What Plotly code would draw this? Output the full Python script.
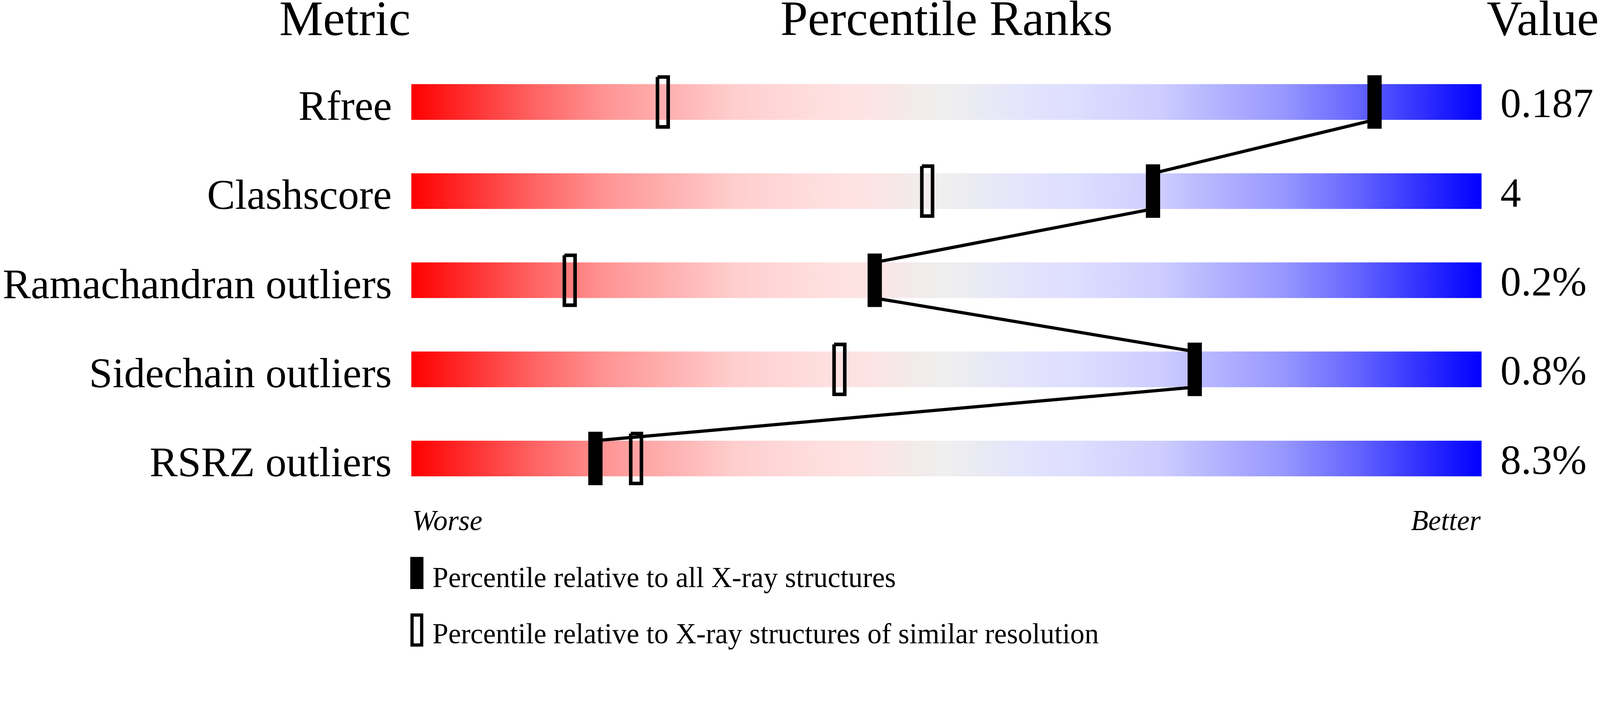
import plotly.graph_objects as go

# slider values
metrics = ['Rfree', 'Clashscore', 'Ramachandran outliers', 'Sidechain outliers', 'RSRZ outliers']
values = ['0.187', '4', '0.2%', '0.8%', '8.3%']
pct_all = [90.0, 69.3, 43.3, 73.2, 17.2]        # percentile vs all X-ray structures
pct_similar = [23.5, 48.2, 14.8, 40.0, 21.0]    # percentile vs similar resolution

headers = ['Metric', 'Percentile Ranks', 'Value']
ends = ['Worse', 'Better']
legend_text = ['Percentile relative to all X-ray structures',
               'Percentile relative to X-ray structures of similar resolution']

# red -> grey -> blue slider colours
grad_pos = [0.0, 0.116, 0.184, 0.26, 0.30, 0.38, 0.43, 0.47, 0.5,
            0.53, 0.57, 0.62, 0.70, 0.74, 0.816, 0.884, 1.0]
grad_col = ['rgb(255,0,0)', 'rgb(255,100,100)', 'rgb(255,150,150)', 'rgb(255,185,185)',
            'rgb(255,205,205)', 'rgb(255,222,222)', 'rgb(253,228,228)', 'rgb(243,234,234)',
            'rgb(239,239,239)',
            'rgb(234,234,243)', 'rgb(228,228,253)', 'rgb(222,222,255)', 'rgb(205,205,255)',
            'rgb(185,185,255)', 'rgb(150,150,255)', 'rgb(100,100,255)', 'rgb(0,0,255)']
colorscale = [[p, c] for p, c in zip(grad_pos, grad_col)]

# page geometry (pixels of the 4485x1824 picture)
W, H = 4485, 1824
X0PX, PXPCT = 1153, 30.0     # bar left edge, pixels per percentile
ROW0, ROWPX = 286, 250.0     # first bar centre, row spacing

def xr(px):
    return (px - X0PX) / PXPCT

def yr(py):
    return (py - ROW0) / ROWPX

BH = 50 / ROWPX              # half bar height
MH = 75 / ROWPX              # half marker height
MW = 20 / PXPCT              # half marker width
FONT = 'Liberation Serif, Times New Roman, serif'

fig = go.Figure()

# gradient bars
for i in range(len(metrics)):
    fig.add_trace(go.Scatter(
        x=[0, 100, 100, 0, 0], y=[i - BH, i - BH, i + BH, i + BH, i - BH],
        mode='lines', fill='toself', line=dict(width=0),
        fillgradient=dict(type='horizontal', colorscale=colorscale),
        hoverinfo='skip', showlegend=False))

# open markers (similar resolution)
ox, oy = [], []
for i, p in enumerate(pct_similar):
    hw, hh = MW - 5 / PXPCT, MH - 5 / ROWPX
    ox += [p - hw, p + hw, p + hw, p - hw, p - hw, None]
    oy += [i - hh, i - hh, i + hh, i + hh, i - hh, None]
fig.add_trace(go.Scatter(x=ox, y=oy, mode='lines', line=dict(color='black', width=10),
                         hoverinfo='skip', showlegend=False))

# connecting line between the all-structure markers
lx, ly = [], []
for i in range(len(pct_all) - 1):
    lx += [pct_all[i], pct_all[i + 1], None]
    ly += [i + BH, i + 1 - BH, None]
fig.add_trace(go.Scatter(x=lx, y=ly, mode='lines', line=dict(color='black', width=9),
                         hoverinfo='skip', showlegend=False))

# filled markers (all X-ray structures)
for i, p in enumerate(pct_all):
    fig.add_trace(go.Scatter(
        x=[p - MW, p + MW, p + MW, p - MW, p - MW],
        y=[i - MH, i - MH, i + MH, i + MH, i - MH],
        mode='lines', fill='toself', fillcolor='black', line=dict(width=0),
        hoverinfo='skip', showlegend=False))

ann = []
for i, (m, v) in enumerate(zip(metrics, values)):
    ann.append(dict(x=xr(1100), y=i, text=m, xanchor='right', yanchor='middle',
                    yshift=-10, font=dict(size=118)))
    ann.append(dict(x=xr(4204), y=i, text=v, xanchor='left', yanchor='middle',
                    yshift=-4, font=dict(size=116)))

hy = yr(52)
ann.append(dict(x=0, y=hy, text=headers[0], xanchor='right', yanchor='middle', font=dict(size=138)))
ann.append(dict(x=50, y=hy, text=headers[1], xanchor='center', yanchor='middle', font=dict(size=138)))
ann.append(dict(x=xr(4484), y=hy, text=headers[2], xanchor='right', yanchor='middle', font=dict(size=138)))

ey = yr(1460)
ann.append(dict(x=0, y=ey, text='<i>%s</i>' % ends[0], xanchor='left', yanchor='middle', font=dict(size=80)))
ann.append(dict(x=100, y=ey, text='<i>%s</i>' % ends[1], xanchor='right', yanchor='middle', font=dict(size=80)))

ann.append(dict(x=xr(1210), y=yr(1620), text=legend_text[0], xanchor='left', yanchor='middle', font=dict(size=80)))
ann.append(dict(x=xr(1210), y=yr(1778), text=legend_text[1], xanchor='left', yanchor='middle', font=dict(size=80)))

for a in ann:
    a.update(xref='x', yref='y', showarrow=False)
    a['font'].update(family=FONT, color='black')

# legend glyphs
shapes = [
    dict(type='rect', xref='x', yref='y', x0=xr(1150), x1=xr(1187), y0=yr(1562), y1=yr(1652),
         fillcolor='black', line=dict(width=0)),
    dict(type='rect', xref='x', yref='y', x0=xr(1155), x1=xr(1182), y0=yr(1725), y1=yr(1809),
         fillcolor='white', line=dict(color='black', width=9)),
]

fig.update_layout(
    width=W, height=H,
    margin=dict(l=0, r=0, t=0, b=0),
    paper_bgcolor='white', plot_bgcolor='white',
    xaxis=dict(range=[xr(0), xr(W)], visible=False, fixedrange=True),
    yaxis=dict(range=[yr(H), yr(0)], visible=False, fixedrange=True),
    annotations=ann, shapes=shapes,
    showlegend=False,
)

# fit the page to the real viewport width and scale pixel sizes with it
fit_js = """
var gd = document.getElementById('{plot_id}');
document.body.style.margin = '0';
document.body.style.overflow = 'hidden';
var k = window.innerWidth / %d;
var upd = {width: window.innerWidth, height: %d * k};
(gd.layout.annotations || []).forEach(function(a, j) {
    upd['annotations[' + j + '].font.size'] = a.font.size * k;
    if (a.yshift) { upd['annotations[' + j + '].yshift'] = a.yshift * k; }
});
(gd.layout.shapes || []).forEach(function(s, j) {
    if (s.line && s.line.width) { upd['shapes[' + j + '].line.width'] = s.line.width * k; }
});
var idx = [], widths = [];
gd.data.forEach(function(t, j) {
    if (t.line && t.line.width) { idx.push(j); widths.push(t.line.width * k); }
});
return Plotly.relayout(gd, upd).then(function() {
    return Plotly.restyle(gd, {'line.width': widths}, idx);
});
""" % (W, H)

fig.write_html('out.html', config={'displayModeBar': False}, post_script=fit_js)
